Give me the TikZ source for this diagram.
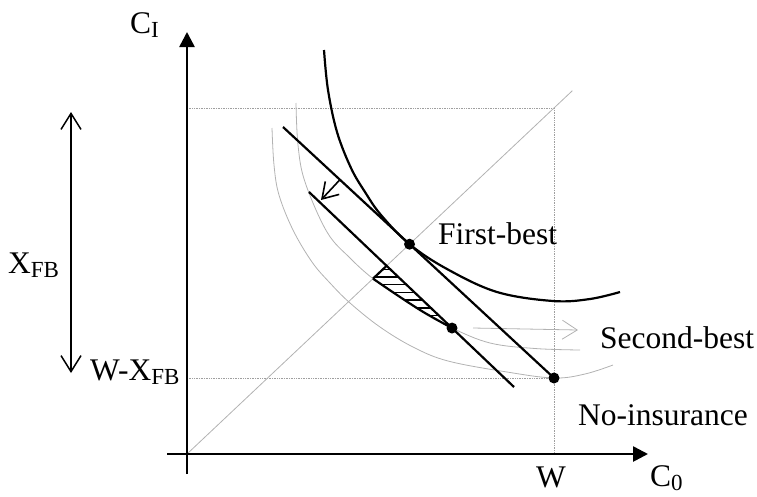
\documentclass[tikz,border=0pt]{standalone}
\usepackage{fontspec}
\setmainfont{Liberation Serif}
\usetikzlibrary{arrows.meta,calc}
\newcommand\lowsub[1]{\raisebox{-4pt}{\fontsize{23}{23}\selectfont #1}}
\begin{document}
\begin{tikzpicture}[x=1pt,y=-1pt,
 thickline/.style={line width=2.2pt, black},
 axisline/.style={line width=2.6pt, -{Triangle[length=15pt,width=15pt]}},
 guide/.style={gray!75, line width=0.7pt, densely dotted},
 thinc/.style={gray!60, line width=0.8pt},
 lbl/.style={font=\fontsize{31.5}{31.5}\selectfont, inner sep=0pt, anchor=base west},
 dot/.style={circle, fill=black, inner sep=0pt, minimum size=11pt},
 barb/.style={-{Straight Barb[length=15pt,width=19pt]}}]

\useasboundingbox (0,0) rectangle (757,496);

% key coordinates
\coordinate (O) at (187,454);
\coordinate (Cor) at (554,108);
\coordinate (NIp) at (554,378);
\coordinate (Wx) at (554,454);
\coordinate (Ytop) at (187,108);
\coordinate (Ylow) at (187,378);
\coordinate (Dend) at ($(O)!1.05!(Cor)$);
\coordinate (L1a) at (283,127);
\coordinate (L2a) at (309,192);
\coordinate (L2b) at (514,387);
\coordinate (FBp) at (intersection of O--Cor and L1a--NIp);
\coordinate (SBp) at ($(L2a)!0.6976!(L2b)$);
\coordinate (P1) at ($(O)!0.5068!(Cor)$);
\coordinate (P2) at (intersection of O--Cor and L2a--L2b);

% guides
\draw[guide] (Ytop) -- (Cor) -- (Wx);
\draw[guide] (Ylow) -- (NIp);
\draw[thinc] (O) -- (Dend);

% thin indifference curves
\draw[thinc] plot[smooth, tension=0.6] coordinates {(296,103) (298,145) (305,182) (327,232) (350,258) (P1) (400,297) (425,313) (SBp) (490,343) (535,348.5) (580,350)};
\draw[thinc] plot[smooth, tension=0.6] coordinates {(272,128) (274,165) (279,195) (293,230) (312,262) (330,283) (350,303) (380,327) (413,347) (448,361) (507,372) (NIp) (585,374) (613,365)};

% grey arrow towards Second-best
\coordinate (ga) at (473,328);
\coordinate (gb) at (578,330);
\draw[thinc, barb] (ga) -- (gb);

% hatched region
\begin{scope}
\clip (P1) -- (P2) -- (SBp) -- plot[smooth, tension=0.6] coordinates {(SBp) (425,313) (400,297) (P1)} -- cycle;
\foreach \yy in {0,...,8}{
  \draw[line width=1.4pt] (360,{269.3+7.7*\yy}) -- (460,{269.3+7.7*\yy});
}
\end{scope}
\draw[thickline, line join=round] (P1) -- (P2);
\draw[thickline] plot[smooth, tension=0.6] coordinates {(P1) (400,297) (425,313) (SBp)};

% budget lines
\draw[thickline] (L1a) -- (NIp);
\draw[thickline] (L2a) -- (L2b);

% first-best indifference curve
\draw[thickline] plot[smooth, tension=0.6] coordinates {(324,50) (328,90) (337,132) (351,168) (365,192) (381,215) (FBp) (447,269) (497,292) (553,301) (590,299) (620,292)};

% shift arrow
\coordinate (sa) at ($(L1a)!0.21!(NIp)$);
\coordinate (sb) at (321,200);
\draw[line width=1.6pt, barb] (sa) -- (sb);

% axes
\coordinate (yb) at (187,474);
\coordinate (yt) at (187,32);
\coordinate (xl) at (167,454);
\coordinate (xr) at (648,454);
\draw[axisline] (yb) -- (yt);
\draw[axisline] (xl) -- (xr);

% double arrow
\coordinate (da) at (71,112);
\coordinate (db) at (71,373);
\draw[line width=1.5pt, {Straight Barb[length=16pt,width=20pt]}-{Straight Barb[length=16pt,width=20pt]}] (da) -- (db);

% dots
\node[dot] (fbdot) at (FBp) {};
\node[dot] (sbdot) at (SBp) {};
\node[dot] (nidot) at (NIp) {};

% labels
\node[lbl] (ci) at (130,33) {C\lowsub{I}};
\node[lbl] (xfb) at (8,273) {X\lowsub{FB}};
\node[lbl] (wxfb) at (90,380) {W-X\lowsub{FB}};
\node[lbl] (fbl) at (438,244) {First-best};
\node[lbl] (sbl) at (600,348) {Second-best};
\node[lbl] (nil) at (578,425) {No-insurance};
\node[lbl, anchor=base] (wl) at (551,487) {W};
\node[lbl] (c0) at (650,486) {C\lowsub{0}};
\end{tikzpicture}
\end{document}
